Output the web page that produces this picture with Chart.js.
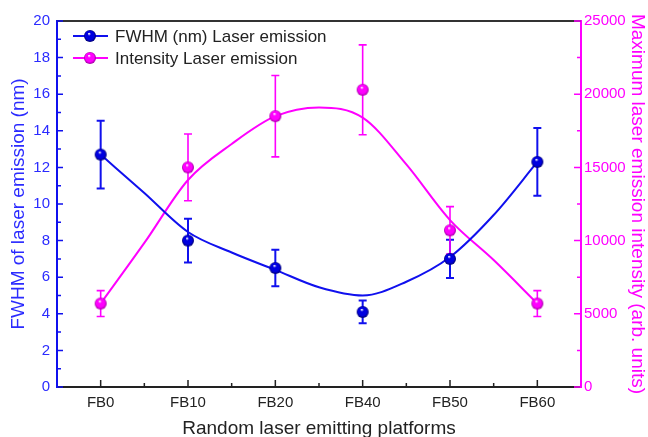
<!DOCTYPE html>
<html>
<head>
<meta charset="utf-8">
<script src="https://cdn.jsdelivr.net/npm/chart.js@4"></script>
<style>
  body { margin: 0; background: #fff; }
</style>
</head>
<body>
<canvas id="laserChart" width="648" height="437"></canvas>
<script>
    // values
    var categories = ['FB0', 'FB10', 'FB20', 'FB40', 'FB50', 'FB60'];
    var fwhm = [12.7, 8.0, 6.5, 4.1, 7.0, 12.3];
    var fwhmErr = [1.85, 1.2, 1.0, 0.62, 1.05, 1.85];
    var intensity = [5700, 15000, 18500, 20300, 10700, 5700];
    var intensityErr = [880, 2280, 2780, 3070, 1620, 880];

    // fitted curves at every half category
    var fitX = [0, 0.5, 1, 1.5, 2, 2.5, 3, 3.5, 4, 4.5, 5];
    var fwhmFit = [12.7, 10.6, 8.47, 7.35, 6.4, 5.45, 5.0, 5.75, 7.1, 9.4, 12.3];
    var intensityFit = [5700, 9840, 14140, 16600, 18500, 19100, 18400, 15200, 11400, 8670, 5700];

    var BLUE = '#1010ee';
    var BLUE_TXT = '#2b2bff';
    var MAGENTA = '#ff00ff';
    var FONT = 'Arial, "Liberation Sans", sans-serif';

    Chart.defaults.font.family = FONT;

    function sphere(base, dark) {
        var r = 6;
        var c = document.createElement('canvas');
        c.width = c.height = 2 * r + 2;
        var g = c.getContext('2d');
        var cx = r + 1, cy = r + 1;
        var grad = g.createRadialGradient(cx - 1, cy - 2.5, 0.3, cx, cy, r);
        grad.addColorStop(0, '#ffffff');
        grad.addColorStop(0.25, base);
        grad.addColorStop(0.7, base);
        grad.addColorStop(1, dark);
        g.fillStyle = grad;
        g.beginPath();
        g.arc(cx, cy, r, 0, Math.PI * 2);
        g.fill();
        return c;
    }
    var blueBall = sphere('#0000e0', '#000070');
    var pinkBall = sphere('#ff00ff', '#a000a0');

    function pts(xs, ys) {
        return xs.map(function (x, i) { return { x: x, y: ys[i] }; });
    }

    var errorBars = {
        id: 'errorBars',
        beforeDatasetsDraw: function (chart) {
            var ctx = chart.ctx, x = chart.scales.x;
            var sets = [
                { vals: fwhm, err: fwhmErr, scale: chart.scales.y, color: BLUE, w: 2 },
                { vals: intensity, err: intensityErr, scale: chart.scales.y1, color: MAGENTA, w: 1.6 }
            ];
            ctx.save();
            sets.forEach(function (s) {
                ctx.strokeStyle = s.color;
                ctx.lineWidth = s.w;
                s.vals.forEach(function (v, i) {
                    var px = x.getPixelForValue(i);
                    var top = s.scale.getPixelForValue(v + s.err[i]);
                    var bot = s.scale.getPixelForValue(v - s.err[i]);
                    ctx.beginPath();
                    ctx.moveTo(px, top); ctx.lineTo(px, bot);
                    ctx.moveTo(px - 4, top); ctx.lineTo(px + 4, top);
                    ctx.moveTo(px - 4, bot); ctx.lineTo(px + 4, bot);
                    ctx.stroke();
                });
            });
            ctx.restore();
        }
    };

    var frame = {
        id: 'frame',
        afterDraw: function (chart) {
            var ctx = chart.ctx, a = chart.chartArea;
            var x = chart.scales.x, y = chart.scales.y, y1 = chart.scales.y1;
            var i, p;
            ctx.save();
            // top border
            ctx.strokeStyle = '#333';
            ctx.lineWidth = 2;
            ctx.beginPath();
            ctx.moveTo(a.left, a.top); ctx.lineTo(a.right, a.top);
            ctx.stroke();
            // inward ticks
            ctx.lineWidth = 1.5;
            ctx.strokeStyle = BLUE;
            ctx.beginPath();
            for (i = 0; i <= 20; i++) {
                p = y.getPixelForValue(i);
                ctx.moveTo(a.left, p); ctx.lineTo(a.left + (i % 2 ? 4 : 6), p);
            }
            ctx.stroke();
            ctx.strokeStyle = MAGENTA;
            ctx.beginPath();
            for (i = 0; i <= 25000; i += 2500) {
                p = y1.getPixelForValue(i);
                ctx.moveTo(a.right, p); ctx.lineTo(a.right - (i % 5000 ? 4 : 7), p);
            }
            ctx.stroke();
            ctx.strokeStyle = '#222';
            ctx.beginPath();
            for (i = 0; i < categories.length; i++) {
                p = x.getPixelForValue(i);
                ctx.moveTo(p, a.bottom); ctx.lineTo(p, a.bottom - 7);
                if (i < categories.length - 1) {
                    p = x.getPixelForValue(i + 0.5);
                    ctx.moveTo(p, a.bottom); ctx.lineTo(p, a.bottom - 4);
                }
            }
            ctx.stroke();

            // legend
            var rows = [
                { color: BLUE, ball: blueBall, text: 'FWHM (nm) Laser emission', y: 36 },
                { color: MAGENTA, ball: pinkBall, text: 'Intensity Laser emission', y: 58 }
            ];
            ctx.font = '17px ' + FONT;
            ctx.textBaseline = 'middle';
            rows.forEach(function (r) {
                ctx.strokeStyle = r.color;
                ctx.lineWidth = 2;
                ctx.beginPath();
                ctx.moveTo(73, r.y); ctx.lineTo(108, r.y);
                ctx.stroke();
                ctx.drawImage(r.ball, 90 - r.ball.width / 2, r.y - r.ball.height / 2);
                ctx.fillStyle = '#222';
                ctx.fillText(r.text, 115, r.y + 1);
            });
            ctx.restore();
        }
    };

    var ctx = document.getElementById('laserChart').getContext('2d');

    var laserChart = new Chart(ctx, {
        data: {
            datasets: [{
                type: 'line',
                label: 'FWHM (nm) Laser emission',
                data: pts([0, 1, 2, 3, 4, 5], fwhm),
                yAxisID: 'y',
                showLine: false,
                pointStyle: blueBall,
                order: 0
            }, {
                type: 'line',
                label: 'Intensity Laser emission',
                data: pts([0, 1, 2, 3, 4, 5], intensity),
                yAxisID: 'y1',
                showLine: false,
                pointStyle: pinkBall,
                order: 0
            }, {
                type: 'line',
                label: 'FWHM fit',
                data: pts(fitX, fwhmFit),
                yAxisID: 'y',
                borderColor: BLUE,
                borderWidth: 2,
                pointRadius: 0,
                cubicInterpolationMode: 'monotone',
                order: 1
            }, {
                type: 'line',
                label: 'Intensity fit',
                data: pts(fitX, intensityFit),
                yAxisID: 'y1',
                borderColor: MAGENTA,
                borderWidth: 2,
                pointRadius: 0,
                cubicInterpolationMode: 'monotone',
                order: 1
            }]
        },
        options: {
            responsive: false,
            animation: false,
            layout: { padding: { top: 21, left: 0, right: 0, bottom: 0 } },
            plugins: {
                legend: { display: false },
                tooltip: { enabled: false }
            },
            scales: {
                x: {
                    type: 'linear',
                    min: -0.5,
                    max: 5.5,
                    afterBuildTicks: function (s) {
                        s.ticks = categories.map(function (c, i) { return { value: i }; });
                    },
                    afterFit: function (s) { s.height = 50; },
                    ticks: {
                        color: '#222',
                        font: { size: 15 },
                        padding: 7,
                        maxRotation: 0,
                        callback: function (v) { return categories[v]; }
                    },
                    grid: { drawOnChartArea: false, drawTicks: false },
                    border: { color: '#222', width: 2 },
                    title: {
                        display: true,
                        text: 'Random laser emitting platforms',
                        color: '#222',
                        font: { size: 19 },
                        padding: { top: 0, bottom: -3 }
                    }
                },
                y: {
                    position: 'left',
                    min: 0,
                    max: 20,
                    afterFit: function (s) { s.width = 57; },
                    ticks: { stepSize: 2, color: BLUE_TXT, font: { size: 15 }, padding: 7 },
                    grid: { drawOnChartArea: false, drawTicks: false },
                    border: { color: BLUE, width: 2 },
                    title: {
                        display: true,
                        text: 'FWHM of laser emission (nm)',
                        color: BLUE_TXT,
                        font: { size: 19 },
                        padding: { top: 7, bottom: 0 }
                    }
                },
                y1: {
                    position: 'right',
                    min: 0,
                    max: 25000,
                    afterFit: function (s) { s.width = 67; },
                    ticks: {
                        stepSize: 5000,
                        color: MAGENTA,
                        font: { size: 15 },
                        padding: 3,
                        callback: function (v) { return String(v); }
                    },
                    grid: { drawOnChartArea: false, drawTicks: false },
                    border: { color: MAGENTA, width: 2 },
                    title: {
                        display: true,
                        text: 'Maximum laser emission intensity (arb. units)',
                        color: MAGENTA,
                        font: { size: 19 },
                        padding: { top: -1, bottom: 0 }
                    }
                }
            }
        },
        plugins: [errorBars, frame]
    });
</script>
</body>
</html>
